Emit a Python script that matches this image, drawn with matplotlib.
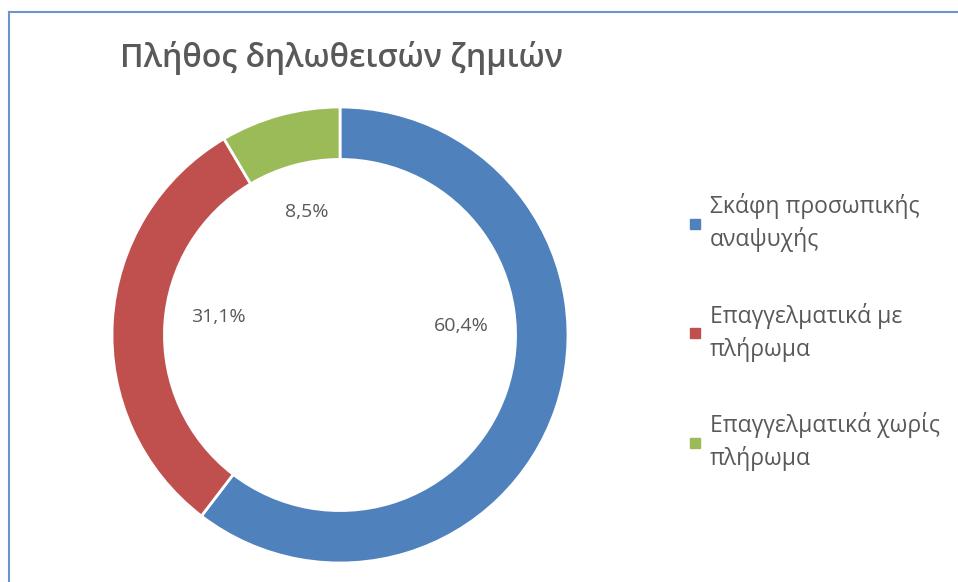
import matplotlib.pyplot as plt
from matplotlib.lines import Line2D
import math

# data
categories = ['Σκάφη προσωπικής\nαναψυχής', 'Επαγγελματικά με\nπλήρωμα', 'Επαγγελματικά χωρίς\nπλήρωμα']
shares = [60.4, 31.1, 8.5]
pct_labels = ['60,4%', '31,1%', '8,5%']
colors = ['#4F81BD', '#C0504D', '#9BBB59']
title = 'Πλήθος δηλωθεισών ζημιών'

plt.rcParams['font.family'] = ['Open Sans', 'DejaVu Sans']
grey = '#595959'

fig = plt.figure(figsize=(9.58, 5.82), dpi=100)
ax = fig.add_axes([112/958, 19/582, 456/958, 456/582])

wedges, _ = ax.pie(shares, colors=colors, startangle=90, counterclock=False,
                   radius=1.0, wedgeprops=dict(width=0.23, edgecolor='white', linewidth=2))
ax.set_xlim(-1, 1)
ax.set_ylim(-1, 1)
ax.set_aspect('equal')

# percentage labels sit just inside the ring (nudged like the original)
nudges = [(0.0, 0.22), (0.025, 0.045), (0.0, 0.0)]
for w, txt, (dx, dy) in zip(wedges, pct_labels, nudges):
    mid = math.radians((w.theta1 + w.theta2) / 2)
    r = 0.56
    ax.text(r*math.cos(mid) + dx, r*math.sin(mid) + dy, txt, ha='center', va='center',
            fontsize=14, color=grey)

fig.text(120/958, 1 - 58/582, title, fontsize=23, fontweight='semibold', color=grey,
         ha='left', va='center')

handles = [Line2D([], [], marker='s', linestyle='none', markersize=7.5,
                  markerfacecolor=c, markeredgecolor=c) for c in colors]
leg = fig.legend(handles, categories, loc='upper left', bbox_to_anchor=(677/958, 1 - 182/582),
                 frameon=False, fontsize=16.5, labelcolor=grey, handlelength=0.6,
                 handletextpad=0.35, labelspacing=2.2, borderpad=0)
for t in leg.get_texts():
    t.set_linespacing(1.42)

# chart area border (only top and left edges visible)
border = '#6F94C8'
fig.add_artist(Line2D([9/958, 9/958], [0, 1 - 12/582], color=border, lw=1.5, transform=fig.transFigure))
fig.add_artist(Line2D([9/958, 1], [1 - 12/582, 1 - 12/582], color=border, lw=1.5, transform=fig.transFigure))

fig.savefig('out.png', dpi=100)
